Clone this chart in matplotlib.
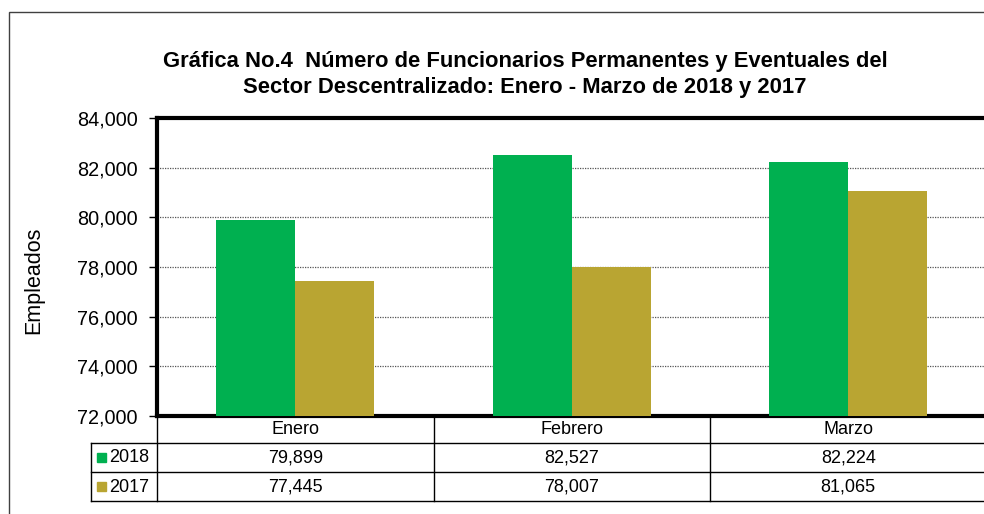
import numpy as np
import matplotlib
matplotlib.use("Agg")
import matplotlib.pyplot as plt
from matplotlib.transforms import blended_transform_factory
from matplotlib.patches import Rectangle
from matplotlib.ticker import FuncFormatter

plt.rcParams['font.family'] = ['Liberation Sans', 'DejaVu Sans']

months = ["Enero", "Febrero", "Marzo"]
series_names = ["2018", "2017"]
values_2018 = [79899, 82527, 82224]
values_2017 = [77445, 78007, 81065]
colors = ["#00B050", "#B9A532"]

W, H = 984, 514
fig = plt.figure(figsize=(W / 100, H / 100), dpi=100)

def fx(px):
    return px / W

def fy(px):
    return 1 - px / H

# plot area runs slightly past the right edge, like the reference
ax = fig.add_axes([fx(157), fy(416), fx(986.5) - fx(157), fy(118) - fy(416)])

x = np.arange(len(months))
bw = 0.286
ax.bar(x - bw / 2, values_2018, bw, color=colors[0], zorder=3)
ax.bar(x + bw / 2, values_2017, bw, color=colors[1], zorder=3)

ax.set_xlim(-0.5, len(months) - 0.5)
ax.set_ylim(72000, 84000)
ax.set_yticks(np.arange(72000, 84001, 2000))
ax.yaxis.set_major_formatter(FuncFormatter(lambda v, p: f"{int(v):,}"))
ax.tick_params(axis='y', labelsize=14.3, length=6, width=1, direction='out', pad=8)
ax.set_xticks([])
ax.grid(axis='y', linestyle=(0, (1, 1)), color='#555555', linewidth=0.9, zorder=0)
for s in ax.spines.values():
    s.set_linewidth(3)
    s.set_color('black')
ax.set_ylabel("Empleados", fontsize=15.5)
ax.yaxis.set_label_coords(fx(44), 0.456,
                          transform=blended_transform_factory(fig.transFigure, ax.transAxes))

fig.text(fx(525), fy(74.5),
         "Gráfica No.4  Número de Funcionarios Permanentes y Eventuales del\n"
         "Sector Descentralizado: Enero - Marzo de 2018 y 2017",
         ha='center', va='center', fontsize=15.8, fontweight='bold', linespacing=1.35)

# data table below the plot
tr = blended_transform_factory(ax.transData, fig.transFigure)
trf = fig.transFigure
line_kw = dict(color='black', linewidth=1, clip_on=False)

for yl in [443, 472, 501]:
    fig.lines.append(plt.Line2D([fx(91), fx(984)], [fy(yl)] * 2, transform=trf, **line_kw))
fig.lines.append(plt.Line2D([fx(91), fx(91)], [fy(443), fy(501)], transform=trf, **line_kw))
fig.lines.append(plt.Line2D([fx(157), fx(157)], [fy(416), fy(501)], transform=trf, **line_kw))
for b in x[:-1] + 0.5:
    ax.plot([b, b], [fy(416), fy(501)], transform=tr, **line_kw)

for i, m in enumerate(months):
    ax.text(i, fy(430), m, transform=tr, ha='center', va='center', fontsize=13)
    ax.text(i, fy(458), f"{values_2018[i]:,}", transform=tr, ha='center', va='center', fontsize=13)
    ax.text(i, fy(487), f"{values_2017[i]:,}", transform=tr, ha='center', va='center', fontsize=13)

for name, c, yc in zip(series_names, colors, [458, 487]):
    fig.patches.append(Rectangle((fx(97), fy(yc + 4)), fx(9), fy(0) - fy(9),
                                 transform=trf, color=c))
    fig.text(fx(109), fy(yc), name, ha='left', va='center', fontsize=13)

# outer chart frame
fig.patches.append(Rectangle((fx(9), fy(520)), fx(1000), fy(12) - fy(520), transform=trf,
                             fill=False, edgecolor='#404040', linewidth=1))

fig.savefig("out.png", dpi=100)
